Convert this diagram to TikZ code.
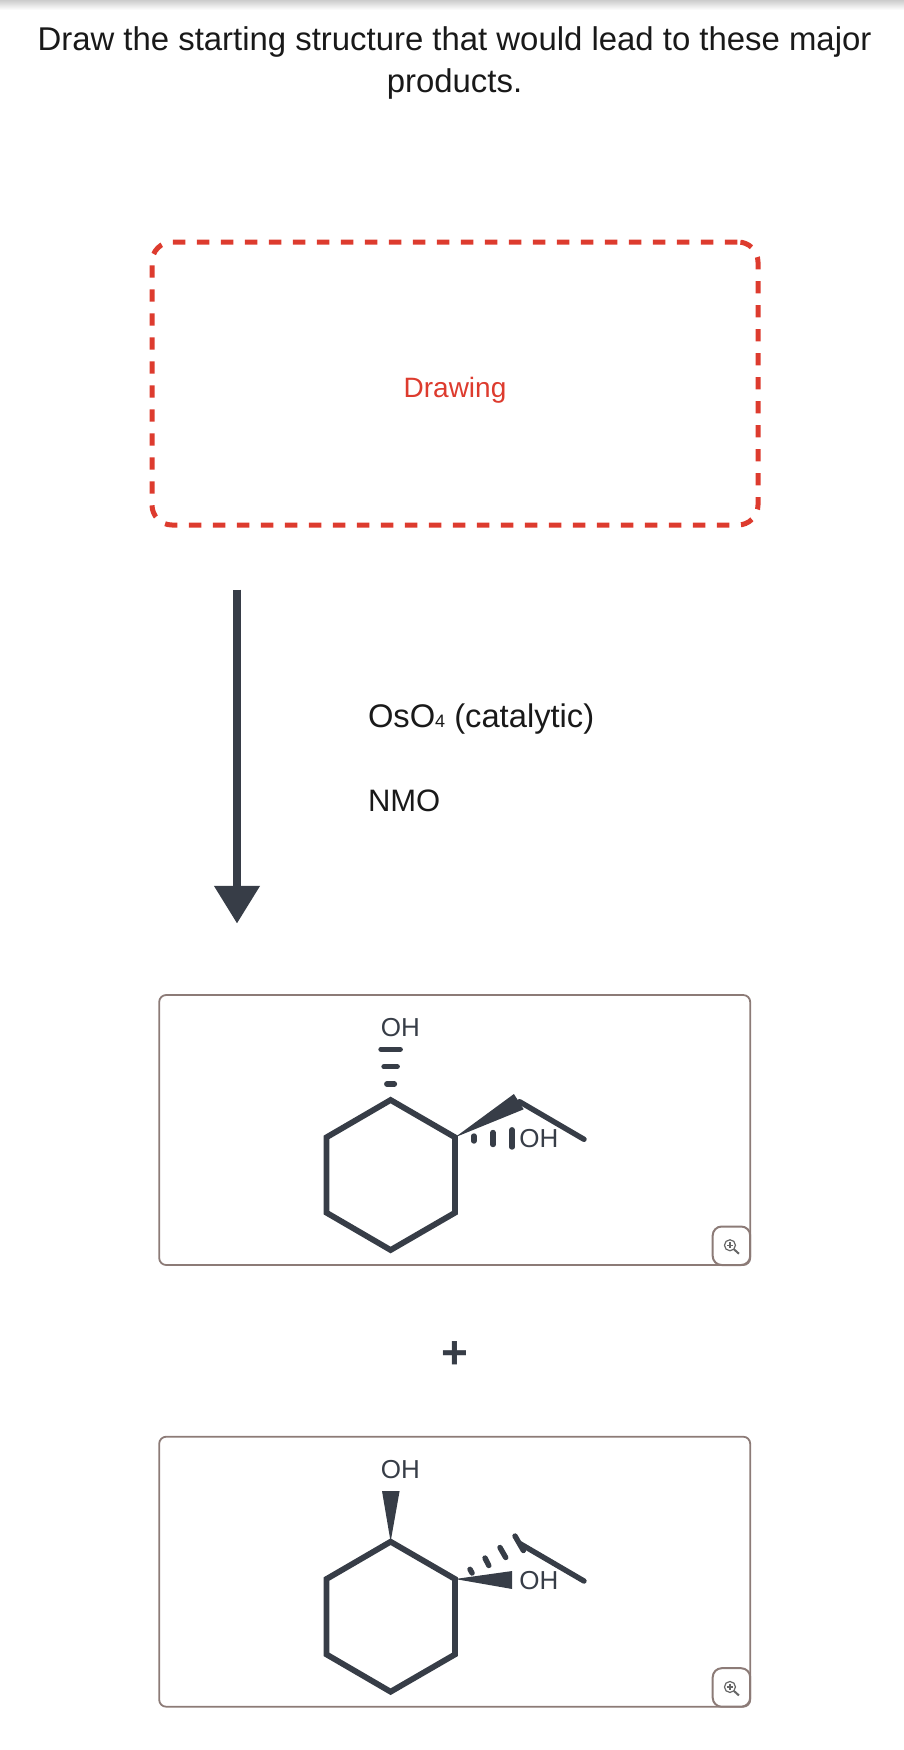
\documentclass[tikz,border=0pt]{standalone}
\usepackage{fontspec}
\setmainfont{Liberation Sans}
\usepackage{tikz}
\usetikzlibrary{arrows.meta,positioning,calc}
\definecolor{inkc}{HTML}{373D47}
\definecolor{redc}{HTML}{DD3B2E}
\definecolor{framec}{HTML}{8C7B77}
\newcommand{\pxfont}[1]{\fontsize{#1}{#1}\selectfont}

\begin{document}
\begin{tikzpicture}[x=1pt,y=-1pt,
    bondstyle/.style={draw=inkc,line width=5.4pt,line cap=round},
    ringstyle/.style={draw=inkc,line width=5.8pt,line join=miter},
    hashstyle/.style={draw=inkc,line width=5.4pt,line cap=round},
    wedgestyle/.style={fill=inkc,draw=none},
    atomstyle/.style={text=inkc,font=\pxfont{26},inner sep=0pt,outer sep=0pt},
    boxstyle/.style={draw=framec,line width=1.8pt,rounded corners=7pt,minimum width=591pt,minimum height=270pt,inner sep=0pt,outer sep=0pt},
    zoomstyle/.style={draw=framec,fill=white,line width=2pt,rounded corners=9pt,minimum width=37.5pt,minimum height=38.5pt,inner sep=0pt,outer sep=0pt},
    reagentstyle/.style={text=black!90,font=\pxfont{31},inner sep=0pt,outer sep=0pt,anchor=base west}]
    \useasboundingbox (0,0) rectangle (904,1750);
    \shade[top color=black!20,bottom color=white] (0,0) rectangle (904,10);
    % question
    \node[font=\pxfont{32.9},text=black!90,inner sep=0pt,anchor=base] (title) at (454.5,50.5) {Draw the starting structure that would lead to these major};
    \node[font=\pxfont{32.9},text=black!90,inner sep=0pt,anchor=base] (titleb) at (454.5,93) {products.};
    % drop zone
    \node[draw=redc,line width=5pt,dash pattern=on 12.4pt off 11.6pt,dash phase=23.3pt,rounded corners=20pt,minimum width=606pt,minimum height=283pt,inner sep=0pt] (dropzone) at (455,383.5) {};
    \node[text=redc,font=\pxfont{28},inner sep=0pt] (drawing) at (455,390) {Drawing};
    % reaction arrow and reagents
    \coordinate (arrowtop) at (237,589.5);
    \coordinate (arrowend) at (237,923.5);
    \draw[draw=inkc,line width=7.5pt,-{Triangle[length=37.6pt,width=44pt]}] (arrowtop) -- (arrowend);
    \node[reagentstyle,font=\pxfont{32.7}] (osmium) at (368,727.5) {OsO{\pxfont{18}4} (catalytic)};
    \node[reagentstyle] (nmo) at (368,811.5) {NMO};
    \node[text=inkc,font=\pxfont{46}\bfseries,inner sep=0pt] (plus) at (454.5,1355) {+};
    % products: frame, ring and ethyl chain
    \foreach \tag/\dy in {a/0,b/441.7} {
        \node[boxstyle] (box\tag) at (454.7,1130+\dy) {};
        \node[zoomstyle,anchor=south east] (zoom\tag) at (box\tag.south east) {};
        \coordinate (lens\tag) at ($(zoom\tag.center)+(-1.5,-0.5)$);
        \draw[draw=black!60,line width=1.2pt] (lens\tag) circle (5.5pt);
        \draw[draw=black!60,line width=1.2pt] ($(lens\tag)+(-2.8,0)$) -- ($(lens\tag)+(2.8,0)$);
        \draw[draw=black!60,line width=1.2pt] ($(lens\tag)+(0,-2.8)$) -- ($(lens\tag)+(0,2.8)$);
        \draw[draw=black!60,line width=2pt] ($(lens\tag)+(4,4)$) -- ($(lens\tag)+(9,8.5)$);
        \coordinate (c1\tag) at (390.6,1100+\dy);
        \coordinate (c2\tag) at (455,1137.3+\dy);
        \coordinate (c3\tag) at (455,1212.7+\dy);
        \coordinate (c4\tag) at (390.6,1250+\dy);
        \coordinate (c5\tag) at (326.5,1212.7+\dy);
        \coordinate (c6\tag) at (326.5,1137.3+\dy);
        \draw[ringstyle] (c1\tag) -- (c2\tag) -- (c3\tag) -- (c4\tag) -- (c5\tag) -- (c6\tag) -- cycle;
        \coordinate (c7\tag) at (519.6,1101.7+\dy);
        \coordinate (c8\tag) at (584,1139.3+\dy);
        \draw[bondstyle] (c7\tag) -- (c8\tag);
        \node[atomstyle] (ohup\tag) at (400.4,1027.5+\dy) {OH};
        \node[atomstyle] (ohside\tag) at (538.8,1138.5+\dy) {OH};
    }
    % first product stereo bonds
    \foreach \xa/\xb/\ya in {381/400.2/1049.3,384/397.2/1066.7,386.8/394.4/1084}
        \draw[hashstyle] (\xa,\ya) -- (\xb,\ya);
    \foreach \xa/\ya/\yb in {473.9/1136/1141,493/1132.5/1144.5,512/1129.8/1147}
        \draw[hashstyle] (\xa,\ya) -- (\xa,\yb);
    \fill[wedgestyle] (c2a) -- (513.9,1094) -- (523.7,1109.3) -- cycle;
    % second product stereo bonds
    \fill[wedgestyle] (c1b) -- (382,1491) -- (399.6,1491) -- cycle;
    \fill[wedgestyle] (c2b) -- (512.2,1571) -- (512.2,1589) -- cycle;
    \foreach \xa/\ya/\xb/\yb in {470/1569.3/472.1/1573,485/1558/488.8/1565.5,500/1547.5/505.7/1557.5,515/1536/523.4/1550.5}
        \draw[hashstyle] (\xa,\ya) -- (\xb,\yb);
\end{tikzpicture}
\end{document}
